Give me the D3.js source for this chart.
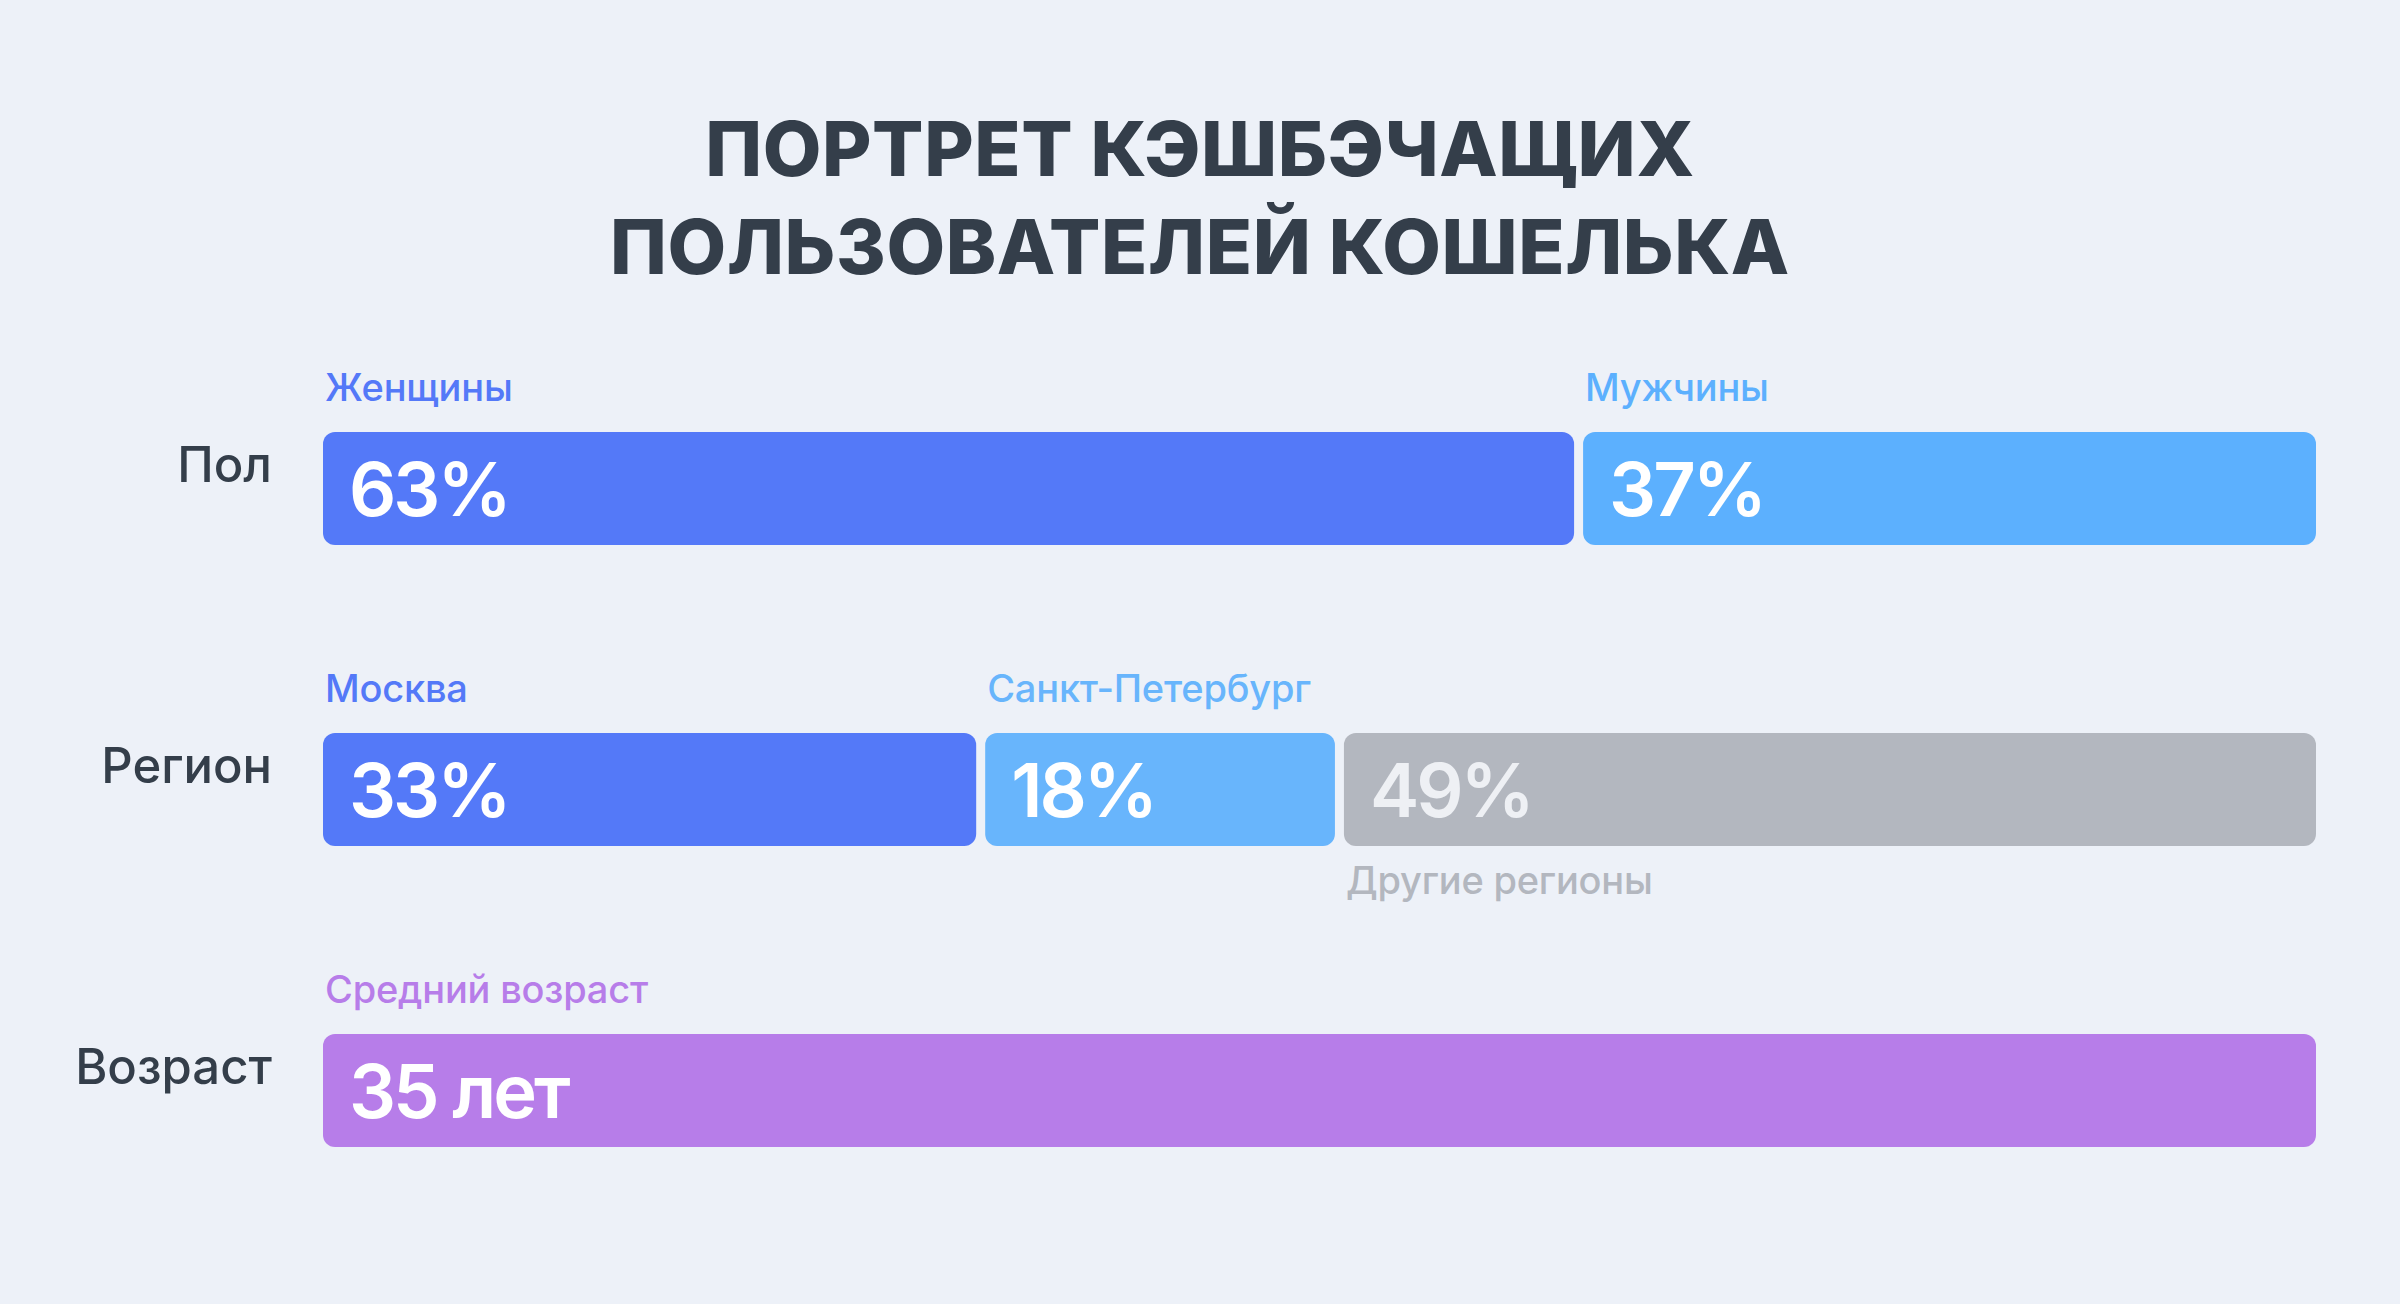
<!DOCTYPE html>
<html>
<head>
<meta charset="utf-8">
<script src="https://cdn.jsdelivr.net/npm/d3@7"></script>
<style>
  html, body { margin: 0; padding: 0; background: #edf1f8; }
  svg { display: block; }
  text { font-family: Inter, "Noto Sans", sans-serif; }
</style>
</head>
<body>
<svg id="chart" width="2400" height="1304"></svg>
<script>
// ---- data ----
const titleLines = ["ПОРТРЕТ КЭШБЭЧАЩИХ", "ПОЛЬЗОВАТЕЛЕЙ КОШЕЛЬКА"];
const rowNames = ["Пол", "Регион", "Возраст"];

const genderCategories = ["Женщины", "Мужчины"];
const genderValues = [63, 37];

const regionCategories = ["Москва", "Санкт-Петербург", "Другие регионы"];
const regionValues = [33, 18, 49];

const ageCategory = "Средний возраст";
const ageValue = 35;
const ageUnit = "лет";

// ---- styles ----
const W = 2400, H = 1304;
const colors = {
  bg: "#edf1f8",
  title: "#343e4a",
  gender: ["#5479f8", "#5cb0fe"],
  region: ["#5479f8", "#68b5fc", "#b3b7bf"],
  age: "#b77de9"
};
const valueTextColors = { region: ["#ffffff", "#ffffff", "#eef0f4"] };

const svg = d3.select("#chart");
svg.append("rect").attr("width", W).attr("height", H).attr("fill", colors.bg);

// title
svg.append("g").selectAll("text").data(titleLines).join("text")
  .attr("x", 1200)
  .attr("y", (d, i) => 176 + i * 97.5)
  .attr("text-anchor", "middle")
  .attr("fill", colors.title)
  .attr("font-size", 76)
  .attr("font-weight", 800)
  .attr("letter-spacing", 0.6)
  .text(d => d);

// scales
const x = d3.scaleLinear().domain([0, 100]).range([323, 2316]);
const y = d3.scalePoint().domain(rowNames).range([432, 1034]);
const barH = 113;
const gap = 9;
const radius = 12;

function segments(cats, vals) {
  let cum = 0;
  return cats.map((c, i) => {
    const s = { cat: c, value: vals[i], i, n: cats.length, start: cum, end: cum + vals[i] };
    cum += vals[i];
    return s;
  });
}

function drawRow(rowName, segs, xs, fills, textFills, valueFmt, belowIdx) {
  const top = y(rowName);
  const g = svg.append("g");
  // row label
  g.append("text")
    .attr("x", 272).attr("y", top + 50)
    .attr("text-anchor", "end")
    .attr("fill", colors.title)
    .attr("font-size", 49)
    .attr("font-weight", 500)
    .text(rowName);

  const seg = g.selectAll("g.seg").data(segs).join("g").attr("class", "seg");
  const x0 = d => xs(d.start) + (d.i > 0 ? gap / 2 : 0);
  const x1 = d => xs(d.end) - (d.i < d.n - 1 ? gap / 2 : 0);

  seg.append("rect")
    .attr("x", x0).attr("y", top)
    .attr("width", d => x1(d) - x0(d))
    .attr("height", barH)
    .attr("rx", radius).attr("ry", radius)
    .attr("fill", d => fills[d.i]);

  seg.append("text")
    .attr("x", d => x0(d) + 26)
    .attr("y", top + barH / 2 + 27)
    .attr("fill", d => textFills[d.i])
    .attr("font-size", 74)
    .attr("font-weight", 600)
    .attr("letter-spacing", -3)
    .text(valueFmt);

  seg.append("text")
    .attr("x", d => x0(d) + 2)
    .attr("y", d => d.i === belowIdx ? top + barH + 48 : top - 31)
    .attr("fill", d => fills[d.i])
    .attr("font-size", 38)
    .attr("font-weight", 500)
    .attr("letter-spacing", -0.2)
    .text(d => d.cat);
}

drawRow("Пол", segments(genderCategories, genderValues), x,
  colors.gender, ["#ffffff", "#ffffff"], d => d.value + "%", -1);

drawRow("Регион", segments(regionCategories, regionValues), x,
  colors.region, valueTextColors.region, d => d.value + "%", 2);

const xAge = d3.scaleLinear().domain([0, ageValue]).range([323, 2316]);
drawRow("Возраст", segments([ageCategory], [ageValue]), xAge,
  [colors.age], ["#ffffff"], d => d.value + " " + ageUnit, -1);
</script>
</body>
</html>
